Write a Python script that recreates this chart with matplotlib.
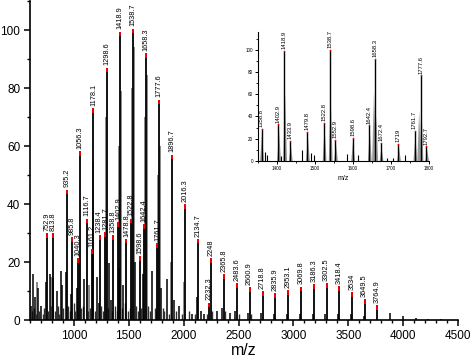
import matplotlib
matplotlib.use("Agg")
import matplotlib.pyplot as plt
from matplotlib.ticker import MultipleLocator

plt.rcParams['font.family'] = ['Liberation Sans', 'DejaVu Sans']

# labelled peaks of the full spectrum (m/z, relative intensity)
peak_mz = [752.9, 813.8, 935.2, 985.8, 1040.3, 1056.3, 1116.7, 1161.2, 1178.1,
           1238.4, 1281.7, 1298.6, 1358.8, 1402.9, 1418.9, 1478.8, 1522.8, 1538.7,
           1598.6, 1642.4, 1658.3, 1761.7, 1777.6, 1896.7, 2016.3, 2134.7, 2232.3,
           2248, 2365.8, 2483.6, 2600.9, 2718.8, 2835.9, 2953.1, 3069.8, 3186.3,
           3302.5, 3418.4, 3534, 3649.5, 3764.9]
peak_int = [30, 30, 45, 28.6, 21.4, 58.3, 35, 24.5, 73,
            29.3, 30.3, 87, 29.3, 33.8, 99.5, 28, 35, 100.5,
            22, 33, 92, 26.5, 76, 57, 40, 28, 6,
            21.4, 15.9, 12.8, 11.3, 10, 9.3, 10.3, 11.5, 12.4,
            12.8, 11.7, 9.7, 7.2, 5.2]
peak_lab = ["752.9", "813.8", "935.2", "985.8", "1040.3", "1056.3", "1116.7", "1161.2", "1178.1",
            "1238.4", "1281.7", "1298.6", "1358.8", "1402.9", "1418.9", "1478.8", "1522.8", "1538.7",
            "1598.6", "1642.4", "1658.3", "1761.7", "1777.6", "1896.7", "2016.3", "2134.7", "2232.3",
            "2248", "2365.8", "2483.6", "2600.9", "2718.8", "2835.9", "2953.1", "3069.8", "3186.3",
            "3302.5", "3418.4", "3534", "3649.5", "3764.9"]

# unlabelled black peaks
minor_mz = [612, 627, 648, 672, 700, 742, 781, 806, 842, 879, 893, 924, 973, 1024,
            1094, 1207, 1228, 1319, 1334, 1410, 1449, 1556, 1631, 1716, 1798, 1844,
            1912, 1960, 2072, 2123, 2158, 2182, 2300, 2350, 2420, 2470, 2590, 2705,
            2820, 2940, 3060, 3175, 3290, 3410, 3525, 3640, 3880, 4000, 4115, 4230, 4345]
minor_int = [5, 16, 8, 11, 5, 13, 16, 14.6, 10, 17, 12, 16.5, 9, 11,
             14, 15, 6, 19.5, 7, 18, 12, 20, 16, 16.8, 11, 14,
             7, 5, 2, 8, 3, 2, 3, 4, 2.5, 3, 2.5, 2.5,
             2, 2, 2, 2, 2, 2, 2, 1.5, 2.5, 1.5, 0.8, 0.5, 0.4]

# low clutter along the baseline
base_mz = [620, 638, 655, 685, 715, 730, 765, 795, 825, 855, 868, 905, 948, 960, 1000,
           1012, 1068, 1080, 1128, 1150, 1190, 1250, 1265, 1310, 1345, 1370, 1390, 1435,
           1465, 1490, 1510, 1570, 1585, 1615, 1672, 1690, 1735, 1750, 1810, 1825, 1865,
           1930, 1985, 2045, 2100, 2210, 2260, 2380, 2500, 2615]
base_int = [3, 4, 2, 3, 2, 4, 3, 5, 3, 5, 2, 4, 5, 3, 6,
            3, 4, 5, 3, 4, 3, 5, 3, 4, 3, 5, 3, 4,
            6, 3, 4, 5, 3, 4, 5, 3, 4, 3, 4, 3, 2,
            3, 2, 3, 2, 2, 3, 3, 2, 2]

# grey shoulders next to the main peaks
grey_mz = [660, 790, 1044, 1139, 1170, 1290, 1414, 1425, 1530, 1545, 1650, 1665,
           1770, 1785, 1881, 2002]
grey_int = [13, 15, 20, 12, 55, 70, 60, 79, 80, 94, 70, 84.5, 50, 60, 20, 13]

# inset: zoom 1350-1800
in_mz = [1358.8, 1402.9, 1418.9, 1433.9, 1479.8, 1522.8, 1538.7, 1552.9, 1598.6,
         1642.4, 1658.3, 1672.4, 1719, 1761.7, 1777.6, 1792.7]
in_int = [29, 33, 99, 18, 26, 34, 100, 19, 21, 32, 92, 16, 15.5, 27, 77, 13]
in_lab = ["1358.8", "1402.9", "1418.9", "1433.9", "1479.8", "1522.8", "1538.7", "1552.9", "1598.6",
          "1642.4", "1658.3", "1672.4", "1719", "1761.7", "1777.6", "1792.7"]
in_small_mz = [1368, 1374, 1410, 1465, 1488, 1496, 1584, 1612, 1690, 1704, 1737]
in_small_int = [8, 5, 4, 10, 7, 5, 6, 5, 3, 3, 5]
in_grey_mz = [1360, 1405, 1421, 1436, 1481, 1525, 1541, 1555, 1600, 1644, 1655, 1661,
              1675, 1721, 1764, 1774, 1780, 1795]
in_grey_int = [25, 28, 60, 14, 22, 30, 58, 15, 18, 28, 62, 40, 12, 12, 22, 45, 50, 10]

# small sideways nudges (m/z units) for crowded labels
nudge = {"1238.4": -7, "1281.7": 7, "1358.8": -6, "1402.9": 6}

fig = plt.figure(figsize=(4.72, 3.6), dpi=100)
ax = fig.add_axes([0.0636, 0.111, 0.9067, 0.886])

ax.vlines(grey_mz, 0, grey_int, color='#808080', lw=1.3)
ax.vlines(base_mz, 0, base_int, color='#303030', lw=1.0)
ax.vlines(minor_mz, 0, minor_int, color='black', lw=1.1)
ax.vlines(peak_mz, 0, peak_int, color='black', lw=1.3)
ax.vlines(peak_mz, [h - 1.6 for h in peak_int], peak_int, color='red', lw=1.3)
for x, h, t in zip(peak_mz, peak_int, peak_lab):
    ax.text(x + nudge.get(t, 0), h + 0.8, t, rotation=90, ha='center', va='bottom', fontsize=5.3)

ax.set_xlim(600, 4500)
ax.set_ylim(0, 110)
ax.xaxis.set_major_locator(MultipleLocator(500))
ax.xaxis.set_minor_locator(MultipleLocator(100))
ax.yaxis.set_major_locator(MultipleLocator(20))
ax.yaxis.set_minor_locator(MultipleLocator(10))
for s in ['top', 'right']:
    ax.spines[s].set_visible(False)
for s in ['left', 'bottom']:
    ax.spines[s].set_linewidth(1.2)
ax.tick_params(which='major', direction='out', length=4, width=1.1, labelsize=8.5, pad=3)
ax.tick_params(which='minor', direction='out', length=2.5, width=1.0)
ax.set_xlabel('m/z', fontsize=11.5, labelpad=1)

# inset
ins = fig.add_axes([0.547, 0.553, 0.362, 0.358])
for x, h in zip(in_grey_mz, in_grey_int):
    ins.fill([x - 5, x, x + 5], [0, h, 0], color='#9a9a9a', lw=0)
ins.vlines(in_small_mz, 0, in_small_int, color='black', lw=0.8)
ins.vlines(in_mz, 0, in_int, color='black', lw=1.0)
ins.plot(in_mz, in_int, 'o', color='red', ms=1.2, mew=0)
for x, h, t in zip(in_mz, in_int, in_lab):
    ins.text(x, h + 1.5, t, rotation=90, ha='center', va='bottom', fontsize=4.2)
ins.set_xlim(1350, 1800)
ins.set_ylim(0, 116)
ins.xaxis.set_major_locator(MultipleLocator(100))
ins.xaxis.set_minor_locator(MultipleLocator(50))
ins.yaxis.set_major_locator(MultipleLocator(20))
ins.yaxis.set_minor_locator(MultipleLocator(10))
for s in ['top', 'right']:
    ins.spines[s].set_visible(False)
for s in ['left', 'bottom']:
    ins.spines[s].set_linewidth(0.8)
ins.tick_params(which='major', direction='out', length=2, width=0.7, labelsize=3.3, pad=1.5)
ins.tick_params(which='minor', direction='out', length=1.2, width=0.6)
ins.set_xlabel('m/z', fontsize=5, labelpad=3)

fig.savefig('out.png', dpi=100)
